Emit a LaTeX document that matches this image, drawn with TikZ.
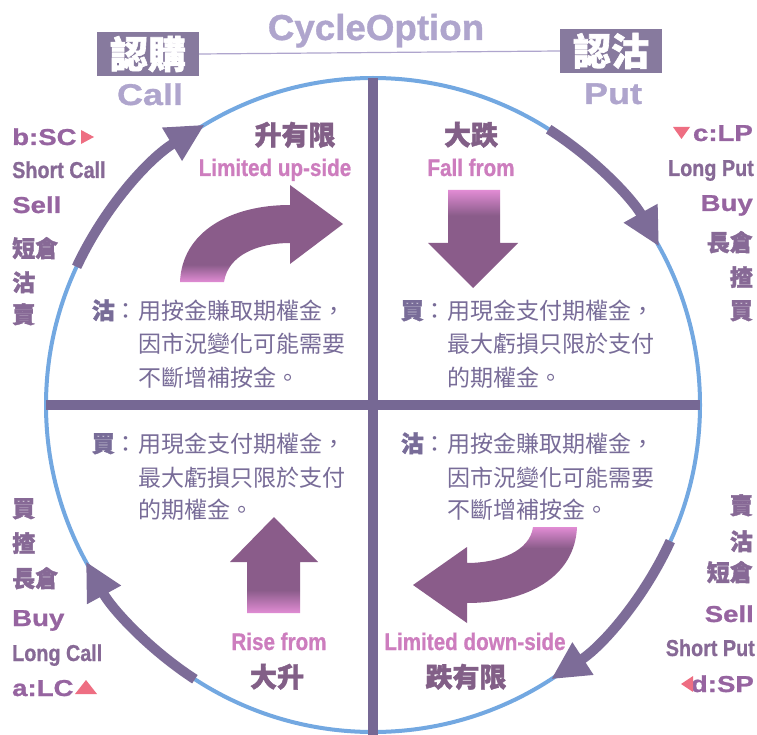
\documentclass[tikz,border=0pt]{standalone}
\usepackage{fontspec}
\setmainfont{Liberation Sans}
\newfontfamily\cjk{Noto Sans CJK TC}
\newfontfamily\cjkh{Noto Sans CJK TC}[BoldFeatures={FakeBold=1.6}]
\newfontfamily\cond{Liberation Sans}[FakeStretch=0.86,BoldFeatures={FakeBold=0.8}]
\newfontfamily\wide{Liberation Sans}[FakeStretch=1.2,BoldFeatures={FakeBold=1}]
\usetikzlibrary{arrows.meta}
\definecolor{circblue}{RGB}{115,168,225}
\definecolor{arcpurple}{RGB}{125,108,152}
\definecolor{barc}{RGB}{118,104,148}
\definecolor{blockdark}{RGB}{138,92,138}
\definecolor{blockpink}{RGB}{225,140,212}
\definecolor{pinktext}{RGB}{205,125,190}
\definecolor{headc}{RGB}{130,95,135}
\definecolor{parac}{RGB}{120,108,152}
\definecolor{sidec}{RGB}{135,105,150}
\definecolor{sidec2}{RGB}{150,100,160}
\definecolor{markc}{RGB}{238,110,130}
\definecolor{titlec}{RGB}{175,165,205}
\definecolor{boxc}{RGB}{135,122,158}
\pgfdeclareverticalshading{shUL}{100bp}{color(0bp)=(blockpink); color(25bp)=(blockpink); color(34bp)=(blockdark); color(100bp)=(blockdark)}
\pgfdeclareverticalshading{shUP}{100bp}{color(0bp)=(blockpink); color(25bp)=(blockpink); color(37bp)=(blockdark); color(100bp)=(blockdark)}
\pgfdeclareverticalshading{shDN}{100bp}{color(0bp)=(blockdark); color(62bp)=(blockdark); color(75bp)=(blockpink); color(100bp)=(blockpink)}
\pgfdeclareverticalshading{shLR}{100bp}{color(0bp)=(blockdark); color(64bp)=(blockdark); color(75bp)=(blockpink); color(100bp)=(blockpink)}
\tikzset{
  arcst/.style={arcpurple, line width=10pt, -{Triangle[length=38pt,width=36pt]}},
  circst/.style={circblue, line width=4pt},
  barst/.style={barc, line width=10pt},
  sidelat/.style={inner sep=0pt, text=sidec2, font=\wide\bfseries\fontsize{23}{25}\selectfont},
  sidecond/.style={inner sep=0pt, text=sidec, font=\cond\bfseries\fontsize{23}{25}\selectfont},
  sidecjk/.style={inner sep=0pt, text=sidec, font=\cjkh\bfseries\fontsize{23}{25}\selectfont},
  headcjk/.style={inner sep=0pt, text=headc, font=\cjkh\bfseries\fontsize{27}{29}\selectfont, anchor=base},
  pinklat/.style={inner sep=0pt, text=pinktext, font=\cond\bfseries\fontsize{24}{26}\selectfont, anchor=base},
  para/.style={inner sep=0pt, text=parac, font=\cjk\fontsize{23}{25}\selectfont, anchor=base west},
  parahead/.style={inner sep=0pt, text=parac, font=\cjk\fontsize{23}{25}\selectfont, anchor=base east},
  boxst/.style={fill=boxc, text=white, inner sep=0pt, minimum width=102pt, minimum height=44pt, font=\cjkh\bfseries\fontsize{38}{40}\selectfont},
  toplat/.style={inner sep=0pt, text=titlec, font=\wide\bfseries\fontsize{30}{32}\selectfont, anchor=base},
  markst/.style={fill=markc},
}
\begin{document}
\begin{tikzpicture}[x=1pt,y=-1pt]
\useasboundingbox (0,0) rectangle (757,735);
\fill[white] (0,0) rectangle (757,735);
\coordinate (O) at (373,405);
% circle and cross
\draw[circst] (O) circle[radius=327];
\draw[barst] (373,78) -- (373,735);
\draw[barst] (46,405) -- (700,405);
% cycle arcs
\draw[arcst] (O) ++(-155:327) arc[start angle=-155,end angle=-121,radius=327];
\draw[arcst] (O) ++(-57.5:327) arc[start angle=-57.5,end angle=-29,radius=327];
\draw[arcst] (O) ++(24.6:327) arc[start angle=24.6,end angle=57,radius=327];
\draw[arcst] (O) ++(123:327) arc[start angle=123,end angle=151.4,radius=327];
% title
\node[inner sep=0pt, text=titlec, font=\wide\bfseries\fontsize{36}{38}\selectfont, anchor=base] (title) at (376,40) {\addfontfeature{FakeStretch=1.02}CycleOption};
\node[boxst] (callbox) at (148,54) {認購};
\node[boxst] (putbox) at (611,51) {認沽};
\draw[titlec, line width=1.2pt] (callbox.east) -- (putbox.west);
\node[toplat] (call) at (150,105) {Call};
\node[toplat] (put) at (613,104) {Put};
% left top labels
\node[sidelat, anchor=base west] (bsc) at (12,145) {b:SC};
\node[sidecond, anchor=base west] (shc) at (12,178) {Short Call};
\node[sidelat, anchor=base west] (sell1) at (12,213) {Sell};
\node[sidecjk, anchor=base west] (l1) at (12,257) {短倉};
\node[sidecjk, anchor=base west] (l2) at (12,291) {沽};
\node[sidecjk, anchor=base west] (l3) at (12,323) {賣};
\fill[markst] (81,130) -- (81,144) -- (94,137) -- cycle;
% right top labels
\node[sidelat, anchor=base east] (clp) at (753,141) {c:LP};
\node[sidecond, anchor=base east] (lput) at (754,176) {Long Put};
\node[sidelat, anchor=base east] (buy1) at (753,211) {Buy};
\node[sidecjk, anchor=base east] (r1) at (753,251) {長倉};
\node[sidecjk, anchor=base east] (r2) at (753,286) {揸};
\node[sidecjk, anchor=base east] (r3) at (753,319) {買};
\fill[markst] (673,127) -- (690,127) -- (681.5,139) -- cycle;
% left bottom labels
\node[sidecjk, anchor=base west] (b1) at (12,517) {買};
\node[sidecjk, anchor=base west] (b2) at (12,552) {揸};
\node[sidecjk, anchor=base west] (b3) at (12,587) {長倉};
\node[sidelat, anchor=base west] (buy2) at (12,626) {Buy};
\node[sidecond, anchor=base west] (lcall) at (12,661) {Long Call};
\node[sidelat, anchor=base west] (alc) at (12,696) {a:LC};
\fill[markst] (75,694) -- (97,694) -- (86,680) -- cycle;
% right bottom labels
\node[sidecjk, anchor=base east] (s1) at (753,514) {賣};
\node[sidecjk, anchor=base east] (s2) at (753,550) {沽};
\node[sidecjk, anchor=base east] (s3) at (753,581) {短倉};
\node[sidelat, anchor=base east] (sell2) at (754,622) {Sell};
\node[sidecond, anchor=base east] (sput) at (755,656) {Short Put};
\node[sidelat, anchor=base east] (dsp) at (754,692) {d:SP};
\fill[markst] (693,676) -- (693,692) -- (681,684) -- cycle;
% quadrant headings
\node[headcjk] (h1) at (295,145) {升有限};
\node[pinklat] (p1) at (275,176) {Limited up-side};
\node[headcjk] (h2) at (471,145) {大跌};
\node[pinklat] (p2) at (471,176) {Fall from};
\node[pinklat] (p3) at (279,650) {Rise from};
\node[headcjk] (h3) at (277,687) {大升};
\node[pinklat] (p4) at (475,650) {Limited down-side};
\node[headcjk] (h4) at (466,687) {跌有限};
% block arrows
\shade[shading=shUL] (180,282) .. controls (182,232) and (230,205) .. (290,205) -- (290,185) -- (343,224) -- (290,264) -- (290,243) .. controls (258,243) and (228,255) .. (224,282) -- cycle;
\shade[shading=shDN] (448,190) -- (500,190) -- (500,243) -- (518,243) -- (473,288) -- (428,243) -- (448,243) -- cycle;
\shade[shading=shUP] (247,613) -- (300,613) -- (300,562) -- (318,562) -- (274,517) -- (230,562) -- (247,562) -- cycle;
\shade[shading=shLR] (577,527) .. controls (575,577) and (527,603) .. (467,603) -- (467,623) -- (413,585) -- (467,547) -- (467,563) .. controls (499,563) and (530,551) .. (533,527) -- cycle;
% paragraphs
\node[parahead] (q1a) at (138,319) {{\cjkh\bfseries 沽}：};
\node[para] (q1b) at (138,319) {用按金賺取期權金，};
\node[para] (q1c) at (138,352) {因市況變化可能需要};
\node[para] (q1d) at (138,386) {不斷增補按金。};
\node[parahead] (q2a) at (447,319) {{\cjkh\bfseries 買}：};
\node[para] (q2b) at (447,319) {用現金支付期權金，};
\node[para] (q2c) at (447,352) {最大虧損只限於支付};
\node[para] (q2d) at (447,386) {的期權金。};
\node[parahead] (q3a) at (138,452) {{\cjkh\bfseries 買}：};
\node[para] (q3b) at (138,452) {用現金支付期權金，};
\node[para] (q3c) at (138,486) {最大虧損只限於支付};
\node[para] (q3d) at (138,518) {的期權金。};
\node[parahead] (q4a) at (447,452) {{\cjkh\bfseries 沽}：};
\node[para] (q4b) at (447,452) {用按金賺取期權金，};
\node[para] (q4c) at (447,486) {因市況變化可能需要};
\node[para] (q4d) at (447,518) {不斷增補按金。};
\end{tikzpicture}
\end{document}
